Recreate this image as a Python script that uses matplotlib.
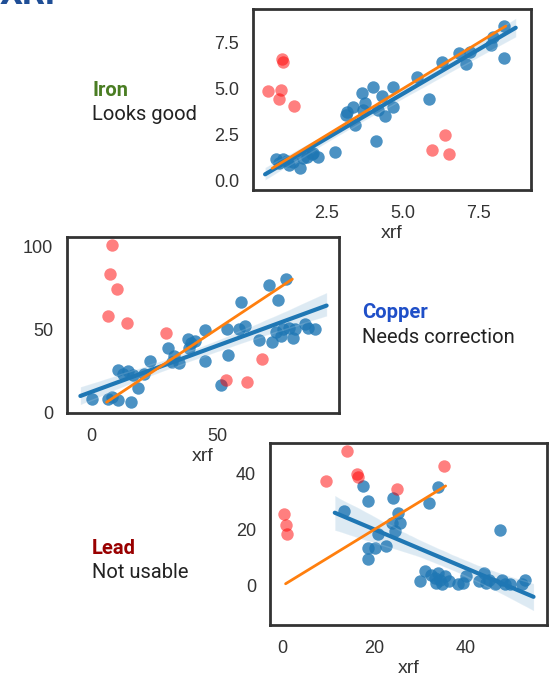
#!/usr/bin/env python3

import numpy as np
import matplotlib
matplotlib.use('Agg')
import matplotlib.pyplot as plt
import seaborn as sns

sns.set_style('white')
plt.rcParams['font.family'] = ['Liberation Sans', 'DejaVu Sans']

# Iron: xrf vs lab, kept points and outliers
iron_x = [0.83, 1.05, 0.92, 1.25, 1.61, 1.38, 1.83, 1.99, 2.21, 2.05, 1.72, 1.17, 2.76,
          3.15, 3.37, 3.13, 3.43, 3.65, 3.76, 4.03, 4.31, 4.20, 4.42, 4.70, 4.70, 3.70,
          4.12, 5.49, 5.89, 6.30, 6.88, 7.10, 7.24, 7.92, 8.01, 8.37, 8.37]
iron_y = [1.18, 1.21, 0.96, 0.87, 0.69, 1.05, 1.32, 1.47, 1.32, 1.54, 1.23, 1.10, 1.59,
          3.77, 4.00, 3.59, 3.04, 4.80, 4.22, 5.09, 4.64, 3.86, 3.53, 5.09, 4.04, 3.86,
          2.19, 5.64, 4.44, 6.48, 6.97, 6.34, 7.03, 7.39, 7.84, 8.42, 6.67]
iron_out_x = [0.56, 0.97, 0.92, 1.41, 1.00, 1.03, 5.99, 6.41, 6.55]
iron_out_y = [4.91, 4.95, 4.44, 4.08, 6.61, 6.48, 1.68, 2.50, 1.47]

# Copper
cu_x = [0.0, 6.7, 8.1, 10.7, 15.9, 18.7, 10.7, 14.5, 12.4, 16.6, 20.8, 23.3, 30.6, 32.7,
        34.8, 32.0, 38.3, 39.7, 41.1, 39.0, 45.1, 45.1, 54.2, 54.5, 51.7, 59.6, 58.7,
        61.1, 66.7, 70.6, 71.8, 74.2, 73.5, 75.7, 76.4, 77.7, 78.7, 81.2, 80.5, 85.1,
        86.5, 89.3]
cu_y = [8.0, 8.0, 9.4, 7.4, 6.0, 14.3, 25.3, 24.9, 22.9, 22.3, 22.9, 30.9, 38.8, 33.9,
        29.5, 29.9, 43.8, 41.4, 42.8, 38.8, 30.9, 49.2, 49.8, 34.3, 16.5, 66.1, 49.8,
        51.8, 43.4, 76.7, 42.2, 67.7, 48.2, 45.8, 49.8, 80.1, 50.8, 49.8, 44.4, 52.8,
        50.8, 49.8]
cu_out_x = [8.1, 7.2, 10.0, 6.7, 14.0, 29.8, 53.7, 62.2, 67.8]
cu_out_y = [100.6, 83.1, 74.3, 58.2, 53.8, 47.4, 19.3, 17.9, 31.9]

# Lead
pb_x = [13.4, 17.6, 18.6, 18.6, 18.6, 20.3, 20.9, 22.6, 24.2, 23.9, 24.5, 25.2, 25.6,
        31.9, 34.0, 30.0, 31.0, 32.5, 33.3, 33.6, 34.0, 34.4, 34.8, 35.5, 36.3, 38.2,
        39.4, 40.1, 42.8, 44.0, 44.3, 45.1, 46.3, 47.8, 48.5, 49.7, 47.4, 52.2, 52.8]
pb_y = [26.5, 35.6, 30.2, 13.3, 9.6, 13.5, 18.3, 14.1, 31.4, 22.2, 19.5, 26.0, 22.4,
        29.6, 35.3, 1.6, 5.1, 3.9, 2.7, 1.0, 4.5, 2.1, 0.7, 3.3, 1.6, 0.7,
        1.0, 3.3, 1.6, 4.5, 1.0, 2.1, 0.7, 2.1, 0.7, 0.7, 19.7, 0.7, 1.9]
pb_out_x = [0.4, 0.8, 1.0, 9.6, 14.0, 16.3, 16.4, 25.0, 35.2]
pb_out_y = [25.7, 21.6, 18.6, 37.4, 48.1, 39.8, 38.8, 34.4, 42.7]

iron_xticks = [2.5, 5.0, 7.5]
iron_yticks = [0.0, 2.5, 5.0, 7.5]
cu_xticks = [0, 50]
cu_yticks = [0, 50, 100]
pb_xticks = [0, 20, 40]
pb_yticks = [0, 20, 40]


def panel(ax, x, y, ox, oy, xlim, ylim, xt, yt, fmt):
    sns.regplot(x=np.array(x), y=np.array(y), ax=ax, truncate=False, seed=3,
                color='#1f77b4', scatter_kws={'s': 80, 'alpha': 0.8, 'linewidths': 0},
                line_kws={'lw': 3})
    ax.scatter(ox, oy, s=80, color='red', alpha=0.5, linewidths=0, zorder=3)
    ident = [min(y), max(y)]
    ax.plot(ident, ident, color='#ff7f0e', lw=2, zorder=4)
    ax.set_xlim(xlim)
    ax.set_ylim(ylim)
    ax.set_xticks(xt)
    ax.set_yticks(yt)
    ax.set_xticklabels([fmt % v for v in xt])
    ax.set_yticklabels([fmt % v for v in yt])
    ax.tick_params(labelsize=13, labelcolor='#333333', length=0)
    ax.tick_params(axis='x', pad=11)
    ax.tick_params(axis='y', pad=10)
    ax.set_xlabel('xrf', fontsize=14, color='#333333', labelpad=2)
    for s in ax.spines.values():
        s.set_color('#333333')
        s.set_linewidth(2)


fig = plt.figure(figsize=(5.51, 6.78), dpi=100)

ax1 = fig.add_axes([0.459, 0.7198, 0.5045, 0.2670])
panel(ax1, iron_x, iron_y, iron_out_x, iron_out_y, (0.05, 9.25), (-0.49, 9.35),
      iron_xticks, iron_yticks, '%.1f')

ax2 = fig.add_axes([0.1216, 0.3909, 0.4936, 0.2596])
panel(ax2, cu_x, cu_y, cu_out_x, cu_out_y, (-9.8, 98.7), (-0.5, 105.5),
      cu_xticks, cu_yticks, '%d')

ax3 = fig.add_axes([0.49, 0.0782, 0.5027, 0.2684])
panel(ax3, pb_x, pb_y, pb_out_x, pb_out_y, (-2.7, 57.7), (-14.0, 50.9),
      pb_xticks, pb_yticks, '%d')

# side notes
note = dict(family=['Roboto', 'DejaVu Sans'], fontsize=14.5, va='center')
fig.text(92/551, 1 - 91/678, 'Iron', color='#4a7d23', fontweight='bold', **note)
fig.text(92/551, 1 - 115/678, 'Looks good', color='#222222', **note)
fig.text(362/551, 1 - 313/678, 'Copper', color='#1f4fc8', fontweight='bold', **note)
fig.text(362/551, 1 - 337/678, 'Needs correction', color='#222222', **note)
fig.text(92/551, 1 - 548/678, 'Lead', color='#990000', fontweight='bold', **note)
fig.text(92/551, 1 - 573/678, 'Not usable', color='#222222', **note)

# title cut off at the top edge
fig.text(0.0, 1 - 4/678, 'XRF', color='#1f4e96', fontsize=26, fontweight='bold',
         family=['Roboto', 'DejaVu Sans'], va='baseline')

fig.savefig('out.png', dpi=100)
